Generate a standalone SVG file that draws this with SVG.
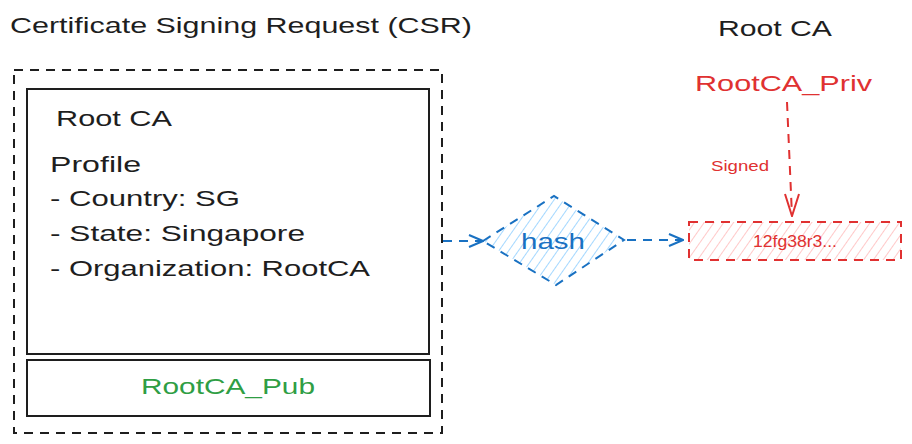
<svg xmlns="http://www.w3.org/2000/svg" width="912" height="444" viewBox="0 0 912 444">
<style>
text{font-family:"Liberation Sans","DejaVu Sans",sans-serif;}
.blk{fill:#1e1e1e;}
.dash{fill:none;stroke:#1e1e1e;stroke-width:2;stroke-dasharray:9 7;}
.solid{fill:#fff;stroke:#1e1e1e;stroke-width:2;}
.bl{fill:none;stroke:#1971c2;stroke-width:2;stroke-dasharray:9 7;}
.rd{fill:none;stroke:#e03131;stroke-width:2;stroke-dasharray:9 7;}
</style>
<defs>
<pattern id="hb" patternUnits="userSpaceOnUse" width="8" height="8" patternTransform="rotate(35)">
<line x1="0" y1="0" x2="0" y2="8" stroke="#a5d8ff" stroke-width="2"/>
</pattern>
<pattern id="hr" patternUnits="userSpaceOnUse" width="8" height="8" patternTransform="rotate(35)">
<line x1="0" y1="0" x2="0" y2="8" stroke="#ffc9c9" stroke-width="2"/>
</pattern>
<marker id="ab" viewBox="0 0 16 14" refX="15" refY="7" markerWidth="16" markerHeight="14" markerUnits="userSpaceOnUse" orient="auto">
<path d="M1 1 L15 7 L1 13" fill="none" stroke="#1971c2" stroke-width="2"/>
</marker>
<marker id="ar" viewBox="0 0 16 24" refX="8" refY="23" markerWidth="16" markerHeight="24" markerUnits="userSpaceOnUse" orient="0">
<path d="M1 1 L8 23 L15 1" fill="none" stroke="#e03131" stroke-width="2"/>
</marker>
</defs>
<rect width="912" height="444" fill="#fff"/>
<text id="title" x="10" y="33" font-size="22" class="blk" textLength="462" lengthAdjust="spacingAndGlyphs">Certificate Signing Request (CSR)</text>
<text id="rootca-title" x="718" y="36" font-size="22" class="blk" textLength="114" lengthAdjust="spacingAndGlyphs">Root CA</text>
<g id="csr">
<rect x="14" y="70" width="428" height="363" class="dash"/>
</g>
<g id="profile">
<rect x="27" y="89" width="402" height="265" class="solid"/>
<text x="56" y="126" font-size="22" class="blk" textLength="116" lengthAdjust="spacingAndGlyphs">Root CA</text>
<text x="50" y="172" font-size="22" class="blk" textLength="91" lengthAdjust="spacingAndGlyphs">Profile</text>
<text x="50" y="206" font-size="22" class="blk" textLength="190" lengthAdjust="spacingAndGlyphs">- Country: SG</text>
<text x="50" y="241" font-size="22" class="blk" textLength="255" lengthAdjust="spacingAndGlyphs">- State: Singapore</text>
<text x="50" y="276" font-size="22" class="blk" textLength="320" lengthAdjust="spacingAndGlyphs">- Organization: RootCA</text>
</g>
<g id="pub">
<rect x="27" y="360" width="403" height="56" class="solid"/>
<text x="228" y="394" font-size="22" fill="#2f9e44" text-anchor="middle" textLength="174" lengthAdjust="spacingAndGlyphs">RootCA_Pub</text>
</g>
<g id="hash">
<path d="M483 241 L554 196 L624 240 L556 285 Z" fill="url(#hb)"/>
<path d="M483 241 L554 196 L624 240 L556 285 Z" class="bl"/>
<text x="553" y="249" font-size="22" fill="#1971c2" text-anchor="middle" textLength="64" lengthAdjust="spacingAndGlyphs">hash</text>
</g>
<g id="priv">
<text x="695" y="91" font-size="22" fill="#e03131" textLength="177" lengthAdjust="spacingAndGlyphs">RootCA_Priv</text>
</g>
<g id="signature">
<rect x="689" y="222" width="212" height="38" fill="url(#hr)"/>
<rect x="689" y="222" width="212" height="38" class="rd"/>
<text x="795" y="247" font-size="16" fill="#e03131" text-anchor="middle" textLength="84" lengthAdjust="spacingAndGlyphs">12fg38r3...</text>
</g>
<g id="connectors">
<path d="M443 241 L483 241" class="bl" marker-end="url(#ab)"/>
<path d="M627 240 L683 240" class="bl" marker-end="url(#ab)"/>
<path d="M787 102 L792 216" class="rd" marker-end="url(#ar)"/>
<text x="711" y="171" font-size="14" fill="#e03131" textLength="58" lengthAdjust="spacingAndGlyphs">Signed</text>
</g>
</svg>
